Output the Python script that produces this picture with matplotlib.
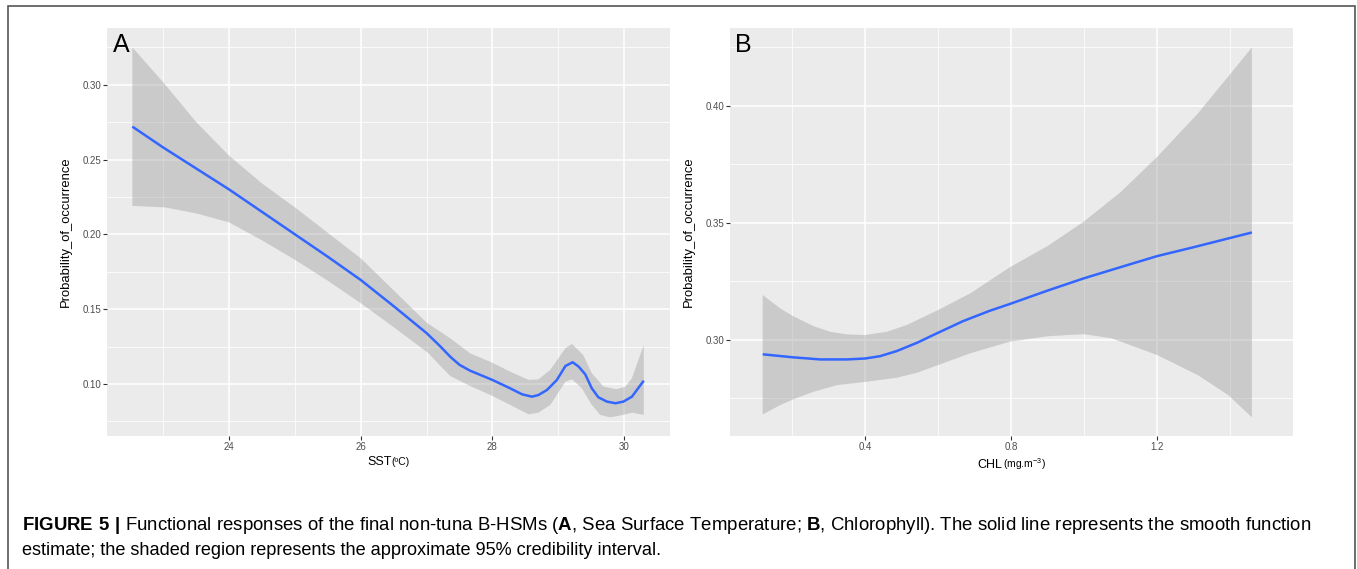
import numpy as np
import matplotlib
matplotlib.use('Agg')
import matplotlib.pyplot as plt
from matplotlib.patches import Rectangle
from matplotlib.offsetbox import TextArea, HPacker, AnchoredOffsetbox

plt.rcParams['font.family'] = ['Liberation Sans', 'DejaVu Sans']
plt.rcParams['mathtext.fontset'] = 'custom'
plt.rcParams['mathtext.rm'] = 'Liberation Sans'
plt.rcParams['mathtext.bf'] = 'Liberation Sans:bold'

# ---- panel A: SST ----
sst_x = [22.53, 23.0, 23.5, 24.0, 24.5, 25.0, 25.5, 26.0, 26.5, 27.0, 27.2, 27.36, 27.5,
         27.66, 28.0, 28.27, 28.45, 28.60, 28.70, 28.83, 28.98, 29.11, 29.22, 29.31,
         29.41, 29.51, 29.61, 29.74, 29.87, 29.99, 30.12, 30.30]
sst_fit = [0.272, 0.258, 0.244, 0.230, 0.215, 0.200, 0.185, 0.1695, 0.152, 0.134, 0.1255,
           0.1182, 0.1128, 0.1089, 0.1027, 0.0971, 0.0931, 0.0915, 0.0926, 0.0960, 0.1027,
           0.1120, 0.1145, 0.1116, 0.1065, 0.0971, 0.0911, 0.0882, 0.0871, 0.0882, 0.0915,
           0.1022]

sst_up_x = [22.53, 23.03, 23.5, 24.0, 24.5, 25.0, 25.5, 26.0, 26.63, 27.0, 27.36, 27.66,
            28.0, 28.27, 28.55, 28.70, 28.88, 29.11, 29.21, 29.38, 29.51, 29.69, 29.89,
            30.02, 30.12, 30.30]
sst_up = [0.325, 0.300, 0.275, 0.2526, 0.234, 0.218, 0.201, 0.184, 0.157, 0.141, 0.1305,
          0.1205, 0.1142, 0.1082, 0.1027, 0.1031, 0.1094, 0.1239, 0.1267, 0.1194, 0.1072,
          0.0982, 0.0965, 0.0982, 0.1038, 0.1261]

sst_lo_x = [22.53, 23.03, 23.5, 24.0, 24.5, 25.0, 25.5, 26.0, 26.5, 27.03, 27.2, 27.36,
            27.66, 28.0, 28.27, 28.55, 28.70, 28.88, 29.11, 29.21, 29.36, 29.51, 29.64,
            29.79, 29.99, 30.12, 30.30]
sst_lo = [0.219, 0.218, 0.214, 0.208, 0.196, 0.183, 0.169, 0.154, 0.138, 0.1205, 0.1125,
          0.1053, 0.0987, 0.0920, 0.0860, 0.0797, 0.0808, 0.0860, 0.1015, 0.1031, 0.0971,
          0.0860, 0.0793, 0.0777, 0.0793, 0.0808, 0.0793]

# ---- panel B: CHL ----
chl_x = [0.119, 0.202, 0.277, 0.35, 0.40, 0.441, 0.487, 0.542, 0.60, 0.669, 0.742,
         0.797, 0.90, 0.999, 1.10, 1.20, 1.30, 1.46]
chl_fit = [0.2938, 0.2925, 0.2916, 0.2916, 0.2920, 0.2930, 0.2952, 0.2987, 0.3030, 0.3080,
           0.3124, 0.3153, 0.3210, 0.3262, 0.3310, 0.3357, 0.3395, 0.3458]

chl_up_x = [0.119, 0.167, 0.202, 0.259, 0.304, 0.35, 0.40, 0.459, 0.514, 0.60, 0.688,
            0.797, 0.90, 0.999, 1.10, 1.20, 1.312, 1.40, 1.46]
chl_up = [0.3191, 0.3134, 0.3101, 0.3058, 0.3034, 0.3023, 0.3020, 0.3034, 0.3063, 0.3127,
          0.3198, 0.3310, 0.3400, 0.3504, 0.3630, 0.3780, 0.3966, 0.4133, 0.4248]

chl_lo_x = [0.119, 0.167, 0.202, 0.259, 0.322, 0.40, 0.487, 0.542, 0.60, 0.688, 0.797,
            0.90, 0.999, 1.076, 1.20, 1.312, 1.395, 1.46]
chl_lo = [0.2681, 0.2721, 0.2745, 0.2778, 0.2806, 0.2820, 0.2838, 0.2859, 0.2892, 0.2942,
          0.2992, 0.3015, 0.3024, 0.3006, 0.2935, 0.2849, 0.2764, 0.2669]

caption_1 = (r'$\mathbf{FIGURE\ 5\ |}$ Functional responses of the final non-tuna B-HSMs '
             r'($\mathbf{A}$, Sea Surface Temperature; $\mathbf{B}$, Chlorophyll). '
             'The solid line represents the smooth function')
caption_2 = 'estimate; the shaded region represents the approximate 95% credibility interval.'

BG = '#EBEBEB'
LINE = '#3366FF'


def ribbon(x_up, up, x_lo, lo):
    # closed polygon: upper edge left->right, lower edge right->left
    xs = list(x_up) + list(x_lo)[::-1]
    ys = list(up) + list(lo)[::-1]
    return xs, ys


def style(ax, xlim, ylim, xmaj, xmin, ymaj, ymin, fmt_x, fmt_y):
    ax.set_facecolor(BG)
    for s in ax.spines.values():
        s.set_visible(False)
    ax.set_xlim(*xlim)
    ax.set_ylim(*ylim)
    ax.set_xticks(xmaj)
    ax.set_xticks(xmin, minor=True)
    ax.set_yticks(ymaj)
    ax.set_yticks(ymin, minor=True)
    ax.set_xticklabels([fmt_x.format(v) for v in xmaj])
    ax.set_yticklabels([fmt_y.format(v) for v in ymaj])
    ax.grid(which='major', color='white', lw=1.1)
    ax.grid(which='minor', color='white', lw=0.55)
    ax.set_axisbelow(True)
    ax.tick_params(which='major', length=2.8, width=0.8, color='#333333',
                   labelcolor='#4D4D4D', labelsize=7, pad=1.5)
    ax.tick_params(which='minor', length=0)
    ax.set_ylabel('Probability_of_occurrence', fontsize=9.4, color='black')


def xlabel_box(ax, big, small):
    parts = HPacker(children=[TextArea(big, textprops=dict(fontsize=9, color='black')),
                              TextArea(small, textprops=dict(fontsize=7.5, color='black'))],
                    align='baseline', pad=0, sep=0)
    box = AnchoredOffsetbox(loc='upper center', child=parts, pad=0, frameon=False,
                            bbox_to_anchor=(0.5, -0.05), bbox_transform=ax.transAxes,
                            borderpad=0)
    ax.add_artist(box)


fig = plt.figure(figsize=(13.57, 5.69), dpi=100)
axA = fig.add_axes([0.0789, 0.2337, 0.4149, 0.7171])
axB = fig.add_axes([0.5380, 0.2337, 0.4149, 0.7171])

xs, ys = ribbon(sst_up_x, sst_up, sst_lo_x, sst_lo)
axA.fill(xs, ys, color='#999999', alpha=0.4, lw=0)
axA.plot(sst_x, sst_fit, color=LINE, lw=1.8, solid_capstyle='butt')
style(axA, (22.146, 30.70), (0.0652, 0.3379), [24, 26, 28, 30], [23, 25, 27, 29],
      [0.10, 0.15, 0.20, 0.25, 0.30], [0.075, 0.125, 0.175, 0.225, 0.275, 0.325],
      '{:.0f}', '{:.2f}')
xlabel_box(axA, 'SST', '(ºC)')

xs, ys = ribbon(chl_up_x, chl_up, chl_lo_x, chl_lo)
axB.fill(xs, ys, color='#999999', alpha=0.4, lw=0)
axB.plot(chl_x, chl_fit, color=LINE, lw=1.8, solid_capstyle='butt')
style(axB, (0.0296, 1.573), (0.2589, 0.4331), [0.4, 0.8, 1.2], [0.2, 0.6, 1.0, 1.4],
      [0.30, 0.35, 0.40], [0.275, 0.325, 0.375, 0.425],
      '{:.1f}', '{:.2f}')
xlabel_box(axB, 'CHL', r'(mg.m$^{\mathregular{-3}}$)')

axA.yaxis.set_label_coords(-0.062, 0.5)
axB.yaxis.set_label_coords(-0.062, 0.5)

axA.text(0.010, 0.941, 'A', transform=axA.transAxes, fontsize=18, va='baseline', ha='left')
axB.text(0.008, 0.941, 'B', transform=axB.transAxes, fontsize=18, va='baseline', ha='left')

# outer frame (open at the bottom edge of the crop)
fig.patches.append(Rectangle((8 / 1357, -0.05), (1355 - 8) / 1357, 1 - 6 / 569 + 0.05,
                             transform=fig.transFigure, fill=False,
                             edgecolor='#555555', lw=1.2, clip_on=False))

fig.text(22 / 1357, 1 - 530 / 569, caption_1, fontsize=13.45, va='baseline', ha='left')
fig.text(22 / 1357, 1 - 555 / 569, caption_2, fontsize=13.1, va='baseline', ha='left')

fig.savefig('out.png', dpi=100)
